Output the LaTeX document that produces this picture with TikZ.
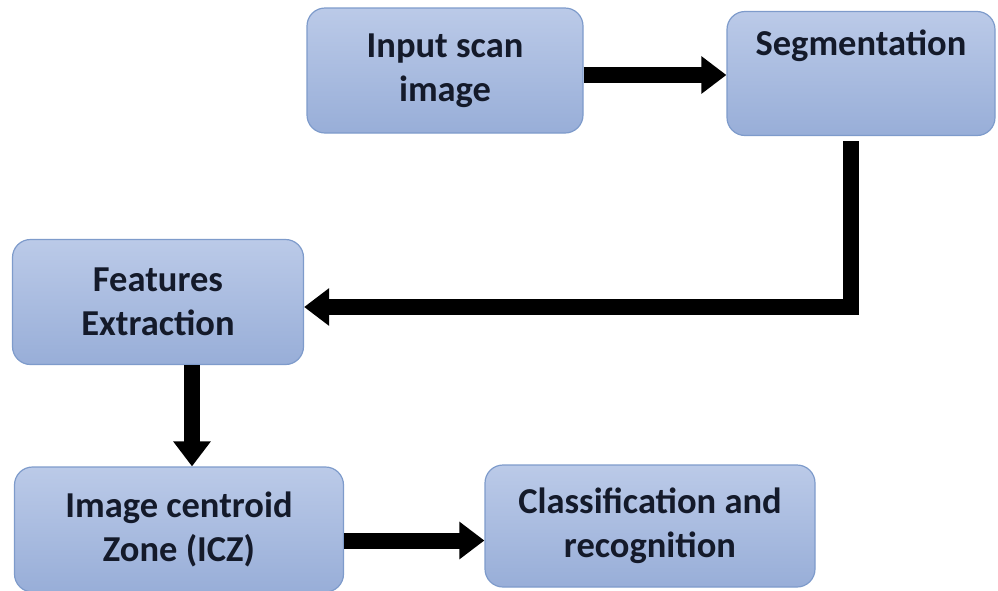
\documentclass[tikz,border=0pt]{standalone}
\usepackage{fontspec}
\setmainfont{Carlito}
\usetikzlibrary{arrows.meta,positioning}

\definecolor{boxtop}{HTML}{BBCAE8}
\definecolor{boxbot}{HTML}{98AED8}
\definecolor{boxline}{HTML}{7E9BCB}
\definecolor{inktext}{HTML}{141A2A}

\tikzset{
  stagebox/.style={
    rectangle, rounded corners=18pt,
    draw=boxline, line width=1.2pt,
    top color=boxtop, bottom color=boxbot,
    align=center, text=inktext,
    font=\bfseries\fontsize{36.5}{44}\selectfont,
    inner sep=0pt
  },
  flow/.style={
    draw=black, line width=16pt, line join=miter,
    -{Triangle[length=25pt,width=36pt]}
  }
}

\begin{document}
\begin{tikzpicture}[x=1pt,y=-1pt]
  \useasboundingbox (0,0) rectangle (998,590);

  % process stages
  \node[stagebox, minimum width=276pt, minimum height=125pt]
    (scan) at (445,70.5) {Input scan\\image};
  \node[stagebox, minimum width=268pt, minimum height=124pt]
    (seg) at (861,73.5) {Segmentation\\[18pt]\mbox{}};
  \node[stagebox, minimum width=291pt, minimum height=125pt]
    (feat) at (158,302) {Features\\Extraction};
  \node[stagebox, minimum width=329pt, minimum height=125pt]
    (icz) at (179,529.5) {Image centroid\\Zone (ICZ)};
  \node[stagebox, minimum width=330pt, minimum height=122pt]
    (cls) at (650,526) {Classification and\\recognition};

  % connectors
  \coordinate (a1) at ([yshift=-4.5pt]scan.east);
  \draw[flow] (a1) -- (a1 -| seg.west);

  \coordinate (a2) at ([xshift=-10pt,yshift=-5pt]seg.south);
  \coordinate (a2end) at ([yshift=-5pt]feat.east);
  \draw[flow] (a2) |- (a2end);

  \coordinate (a3) at ([xshift=34pt]feat.south);
  \draw[flow] (a3) -- (a3 |- icz.north);

  \coordinate (a4) at ([yshift=-11pt]icz.east);
  \draw[flow] (a4) -- (a4 -| cls.west);
\end{tikzpicture}
\end{document}
